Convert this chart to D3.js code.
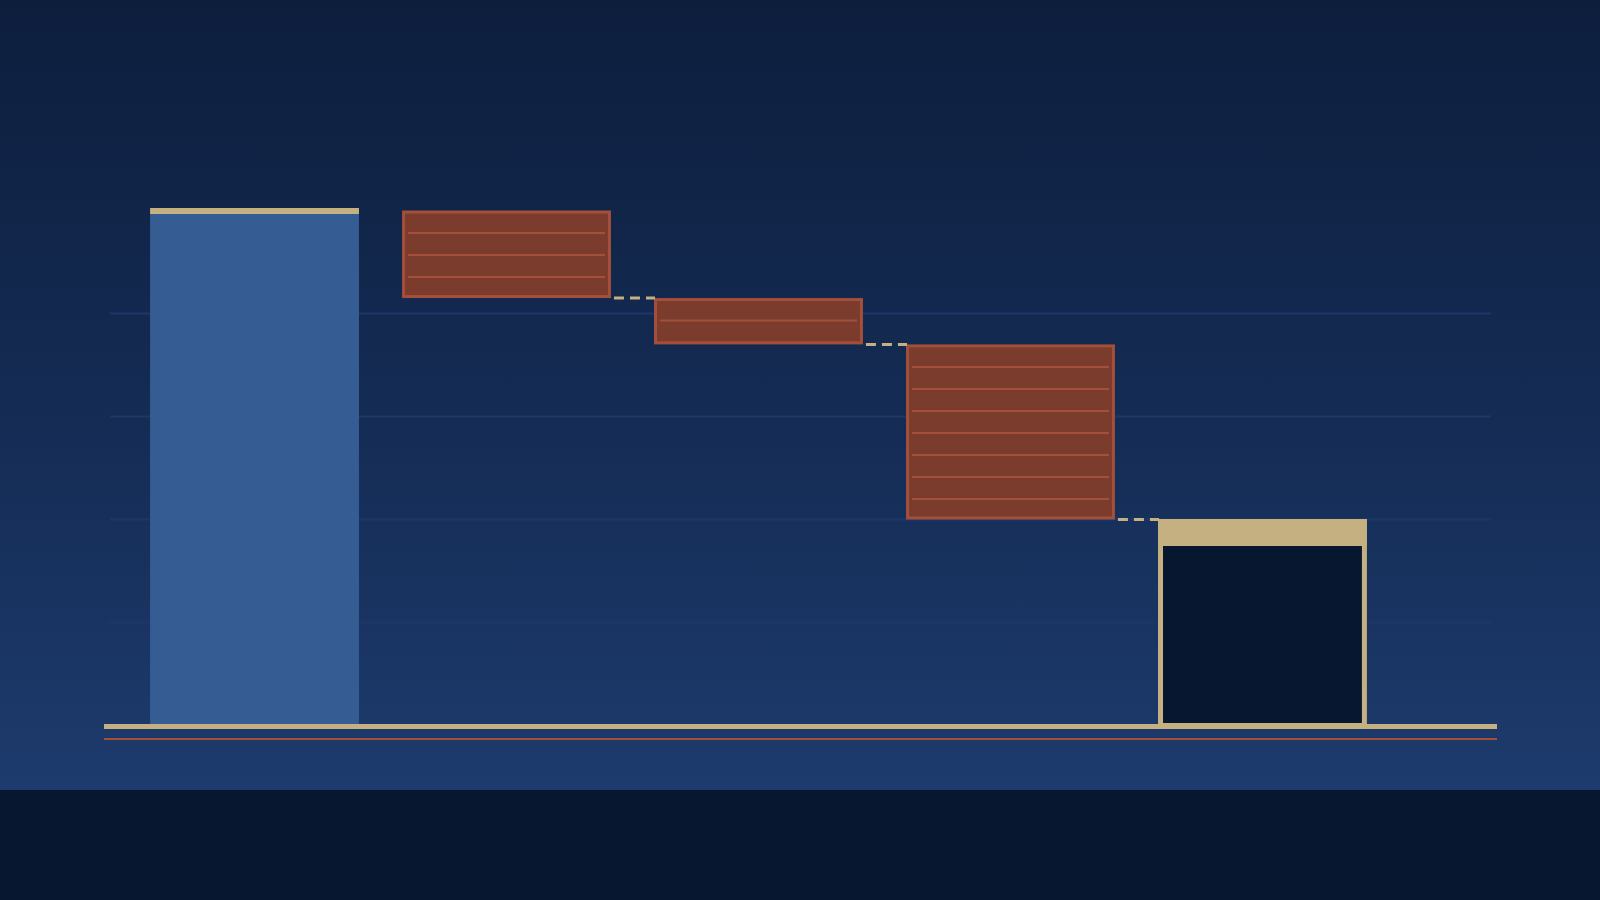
<!DOCTYPE html>
<html>
    <head>
        <title>Waterfall</title>
        <meta charset="UTF-8">
        <script src="https://d3js.org/d3.v7.min.js"></script>
        <style>
            body { margin: 0; background: #081730; }
        </style>
    </head>
    <body>
        <script>
            // bridge: start, three decreases, end total
            var categories = ["start", "step1", "step2", "step3", "total"];
            var kinds = ["start", "drop", "drop", "drop", "total"];
            var values = [100, -17, -9, -34, 40];
            var gridTicks = [20, 40, 60, 80];

            var w = 1600, h = 900;
            var plotBottom = 790;

            // running totals -> from / to for each bar
            var running = 0;
            var bars = categories.map(function(c, i) {
                var from, to;
                if (kinds[i] === "drop") {
                    from = running;
                    to = running + values[i];
                    running = to;
                } else {
                    from = 0;
                    to = values[i];
                    running = values[i];
                }
                return {cat: c, kind: kinds[i], from: from, to: to};
            });

            var xScale = d3.scaleBand()
                    .domain(categories)
                    .range([107, 1410])
                    .paddingInner(0.171)
                    .paddingOuter(0.171);

            var yScale = d3.scaleLinear()
                    .domain([0, 100])
                    .range([725.5, 210.5]);

            var bw = xScale.bandwidth();

            var svg = d3.select("body")
                    .append("svg")
                    .attr("width", w)
                    .attr("height", h)
                    .style("display", "block");

            var defs = svg.append("defs");
            var grad = defs.append("linearGradient")
                    .attr("id", "bg")
                    .attr("x1", 0).attr("y1", 0)
                    .attr("x2", 0).attr("y2", 1);
            grad.append("stop").attr("offset", "0%").attr("stop-color", "#0d1e3d");
            grad.append("stop").attr("offset", "50%").attr("stop-color", "#142b53");
            grad.append("stop").attr("offset", "100%").attr("stop-color", "#1d3b6d");

            svg.append("rect")
                    .attr("width", w)
                    .attr("height", h)
                    .attr("fill", "#081730");
            svg.append("rect")
                    .attr("width", w)
                    .attr("height", plotBottom)
                    .attr("fill", "url(#bg)");

            // gridlines
            svg.append("g")
                    .selectAll("line")
                    .data(gridTicks)
                    .enter()
                    .append("line")
                    .attr("x1", 110)
                    .attr("x2", 1491)
                    .attr("y1", function(d){ return yScale(d); })
                    .attr("y2", function(d){ return yScale(d); })
                    .attr("stroke", "#1d3868")
                    .attr("stroke-width", 2);

            // start bar
            var startBar = bars.filter(function(d){ return d.kind === "start"; });
            svg.selectAll("rect.start")
                    .data(startBar)
                    .enter()
                    .append("rect")
                    .attr("class", "start")
                    .attr("x", function(d){ return xScale(d.cat); })
                    .attr("y", function(d){ return yScale(d.to); })
                    .attr("width", bw)
                    .attr("height", function(d){ return yScale(d.from) - yScale(d.to); })
                    .attr("fill", "#355d93");
            svg.selectAll("rect.startcap")
                    .data(startBar)
                    .enter()
                    .append("rect")
                    .attr("class", "startcap")
                    .attr("x", function(d){ return xScale(d.cat); })
                    .attr("y", function(d){ return yScale(d.to) - 2.5; })
                    .attr("width", bw)
                    .attr("height", 6)
                    .attr("fill", "#c4b080");

            // drop bars with ledger lines
            var drops = bars.filter(function(d){ return d.kind === "drop"; });
            var dropG = svg.selectAll("g.drop")
                    .data(drops)
                    .enter()
                    .append("g")
                    .attr("class", "drop");
            dropG.append("rect")
                    .attr("x", function(d){ return xScale(d.cat) + 1.5; })
                    .attr("y", function(d){ return yScale(d.from) + 1.5; })
                    .attr("width", bw - 3)
                    .attr("height", function(d){ return yScale(d.to) - yScale(d.from) - 3; })
                    .attr("fill", "#7b3c2e")
                    .attr("stroke", "#a44f3a")
                    .attr("stroke-width", 3);
            dropG.each(function(d) {
                var top = yScale(d.from), bot = yScale(d.to);
                d3.select(this).selectAll("line")
                        .data(d3.range(top + 22.5, bot - 1, 22))
                        .enter()
                        .append("line")
                        .attr("x1", xScale(d.cat) + 6)
                        .attr("x2", xScale(d.cat) + bw - 6)
                        .attr("y1", function(v){ return v; })
                        .attr("y2", function(v){ return v; })
                        .attr("stroke", "#a44f3a")
                        .attr("stroke-width", 2);
            });

            // connectors
            var links = bars.slice(0, -1).map(function(d, i) {
                return {a: d.cat, b: bars[i + 1].cat, v: d.to};
            }).slice(1);
            svg.selectAll("line.link")
                    .data(links)
                    .enter()
                    .append("line")
                    .attr("class", "link")
                    .attr("x1", function(d){ return xScale(d.a) + bw + 3; })
                    .attr("x2", function(d){ return xScale(d.b) + 1; })
                    .attr("y1", function(d){ return yScale(d.v); })
                    .attr("y2", function(d){ return yScale(d.v); })
                    .attr("stroke", "#c4b080")
                    .attr("stroke-width", 3)
                    .attr("stroke-dasharray", "10,6");

            // total bar
            var totalBar = bars.filter(function(d){ return d.kind === "total"; });
            svg.selectAll("rect.total")
                    .data(totalBar)
                    .enter()
                    .append("rect")
                    .attr("class", "total")
                    .attr("x", function(d){ return xScale(d.cat) + 2.5; })
                    .attr("y", function(d){ return yScale(d.to) + 2.5; })
                    .attr("width", bw - 5)
                    .attr("height", function(d){ return yScale(d.from) - yScale(d.to) - 2.5; })
                    .attr("fill", "#081730")
                    .attr("stroke", "#c4b080")
                    .attr("stroke-width", 5);
            svg.selectAll("rect.totalcap")
                    .data(totalBar)
                    .enter()
                    .append("rect")
                    .attr("class", "totalcap")
                    .attr("x", function(d){ return xScale(d.cat); })
                    .attr("y", function(d){ return yScale(d.to) - 0.5; })
                    .attr("width", bw)
                    .attr("height", 27)
                    .attr("fill", "#c4b080");

            // baseline + underline
            svg.append("line")
                    .attr("x1", 104).attr("x2", 1497)
                    .attr("y1", yScale(0) + 1).attr("y2", yScale(0) + 1)
                    .attr("stroke", "#c4b080")
                    .attr("stroke-width", 5);
            svg.append("line")
                    .attr("x1", 104).attr("x2", 1497)
                    .attr("y1", yScale(0) + 13.5).attr("y2", yScale(0) + 13.5)
                    .attr("stroke", "#a44f3a")
                    .attr("stroke-width", 2);
        </script>
    </body>
</html>
